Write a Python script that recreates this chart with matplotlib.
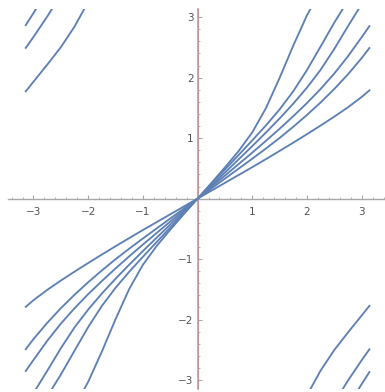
import numpy as np
import matplotlib
matplotlib.use("Agg")
import matplotlib.pyplot as plt
from matplotlib.ticker import MultipleLocator, FixedLocator

# ------------------------------------------------------------------
# Data (x >= 0; curves are odd in x)
# ------------------------------------------------------------------
xs = [0, 0.25, 0.5, 0.75, 1.0, 1.25, 1.5, 1.75, 2.0, 2.25, 2.5, 2.75, 3.0, 3.1416]

c1 = [0, 0.13, 0.26, 0.39, 0.52, 0.653, 0.788, 0.925, 1.065, 1.208, 1.355, 1.51, 1.68, 1.79]
c2 = [0, 0.165, 0.33, 0.495, 0.66, 0.828, 1.003, 1.188, 1.383, 1.59, 1.813, 2.055, 2.323, 2.49]
c3 = [0, 0.19, 0.38, 0.57, 0.76, 0.955, 1.155, 1.363, 1.58, 1.813, 2.068, 2.353, 2.668, 2.851]
c4 = [0, 0.215, 0.43, 0.648, 0.868, 1.093, 1.325, 1.57, 1.835, 2.13, 2.475, 2.85, 3.215, 3.415]
c5 = [0, 0.24, 0.48, 0.72, 0.963, 1.21, 1.475, 1.775, 2.125, 2.515, 2.91, 3.275, 3.61, 3.791]
c6 = [0, 0.255, 0.515, 0.785, 1.095, 1.495, 1.995, 2.53, 3.03, 3.44, 3.78, 4.07, 4.35, 4.51]

curves = [c1, c2, c3, c4, c5, c6]

x_ticks = [-3, -2, -1, 1, 2, 3]
y_ticks = [-3, -2, -1, 1, 2, 3]

line_color = "#5E81B5"
axis_color = "#a8a8a8"
label_color = "#555555"

# ------------------------------------------------------------------
# Plot
# ------------------------------------------------------------------
fig = plt.figure(figsize=(3.85, 3.92), dpi=100)
ax = fig.add_axes([8 / 385, 3.4 / 392, 377 / 385, 380 / 392])

xa = np.array(xs)
x_full = np.concatenate([-xa[::-1], xa[1:]])
for c in curves:
    ya = np.array(c)
    y_full = np.concatenate([-ya[::-1], ya[1:]])
    # angle values wrap around at +-pi
    for shift in (-2 * np.pi, 0, 2 * np.pi):
        ax.plot(x_full, y_full + shift, color=line_color, lw=1.35,
                solid_joinstyle="round", zorder=3)

ax.set_xlim(-3.466, 3.427)
ax.set_ylim(-np.pi, np.pi)

# axes through the origin
for side in ("top", "right"):
    ax.spines[side].set_visible(False)
ax.spines["left"].set_position(("data", 0))
ax.spines["bottom"].set_position(("data", 0))
ax.spines["left"].set_color("#c49a9a")
ax.spines["bottom"].set_color(axis_color)
ax.spines["left"].set_linewidth(1.2)
ax.spines["bottom"].set_linewidth(1.0)
ax.axvline(0, color="#e05a5a", lw=0.6, zorder=2)

ax.xaxis.set_major_locator(FixedLocator(x_ticks))
ax.yaxis.set_major_locator(FixedLocator(y_ticks))
ax.xaxis.set_minor_locator(MultipleLocator(0.2))
ax.yaxis.set_minor_locator(MultipleLocator(0.2))

ax.tick_params(axis="both", which="major", direction="in", length=2.8,
               width=0.8, color=axis_color, labelsize=7.5,
               labelcolor=label_color)
ax.tick_params(axis="both", which="minor", direction="in", length=1.6,
               width=0.6, color=axis_color)
ax.tick_params(axis="x", which="major", pad=6)
ax.tick_params(axis="y", which="major", pad=3)

ax.patch.set_alpha(0)
fig.savefig("out.png", dpi=100)
